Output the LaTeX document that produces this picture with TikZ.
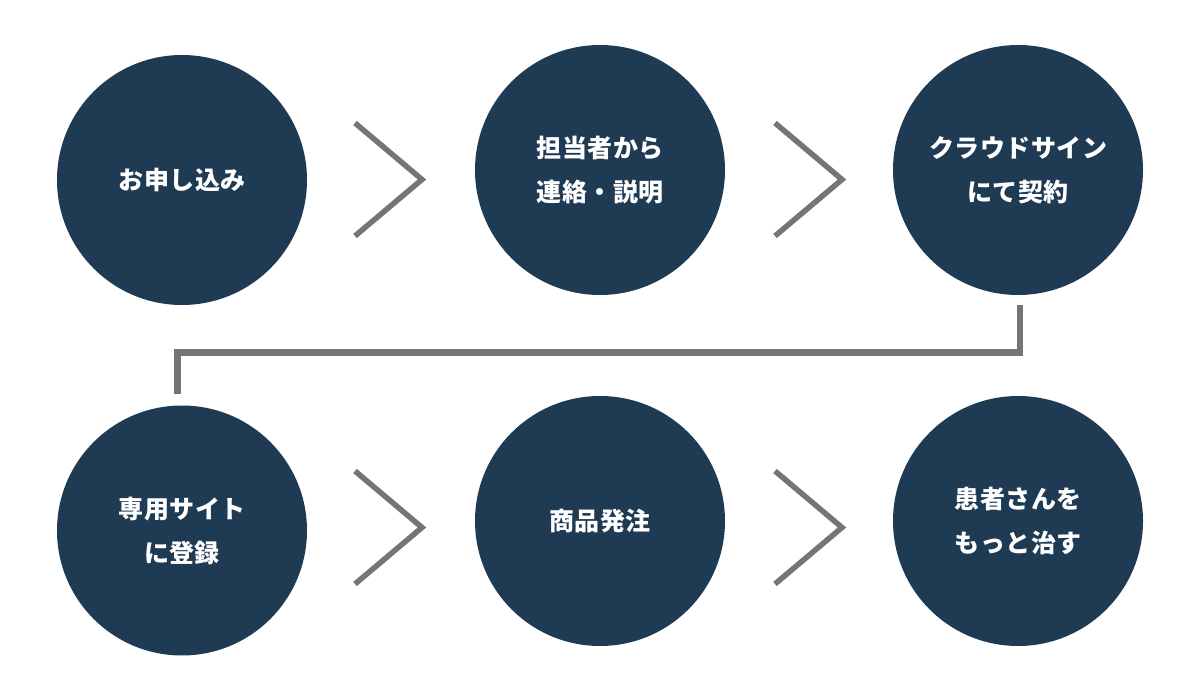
\documentclass[tikz,border=0pt]{standalone}
\usepackage{fontspec}
\newfontfamily\jpfont{Noto Sans CJK JP}[LetterSpace=2]
\usetikzlibrary{calc}
\definecolor{navy}{RGB}{31,58,83}
\definecolor{chevgray}{RGB}{117,117,117}
\tikzset{
  stepcircle/.style={circle, fill=navy, draw=none, minimum size=250pt, inner sep=0pt,
    text=white, align=center, font=\jpfont\bfseries\fontsize{25}{44}\selectfont},
  chevron/.style={draw=chevgray, line width=5.5pt, line cap=butt, line join=miter},
  conn/.style={draw=chevgray, line width=6.5pt, line cap=butt, line join=miter}
}
\begin{document}
\begin{tikzpicture}[x=1pt,y=-1pt]
\useasboundingbox (0,0) rectangle (1200,700);
\node[stepcircle] (c1) at (182,180) {お申し込み};
\node[stepcircle] (c2) at (600,170) {担当者から\\連絡・説明};
\node[stepcircle] (c3) at (1018,170) {クラウドサイン\\にて契約};
\node[stepcircle] (c4) at (182,530.5) {専用サイト\\に登録};
\node[stepcircle] (c5) at (600,521) {商品発注};
\node[stepcircle] (c6) at (1018,521) {患者さんを\\もっと治す};
% chevrons
\draw[chevron] (355,123) -- (422,179.5) -- (355,236);
\draw[chevron] (775,123) -- (842,179.5) -- (775,236);
\draw[chevron] (355,471) -- (422,527.5) -- (355,584);
\draw[chevron] (775,471) -- (842,527.5) -- (775,584);
% connector
\draw[conn] ($(c3.south)+(2,10)$) -- ++(0,47.5) -| ($(c4.north)+(-4.5,-11)$);
\end{tikzpicture}
\end{document}
